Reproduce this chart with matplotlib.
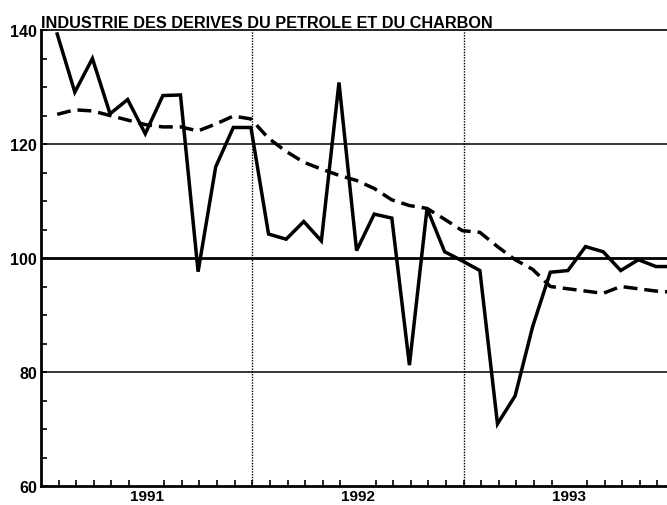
import numpy as np
import matplotlib
matplotlib.use('Agg')
import matplotlib.pyplot as plt

# monthly index, Jan 1991 .. Dec 1993
indice = [139.3, 129.1, 135.0, 125.3, 127.8, 121.8, 128.5, 128.6, 97.6, 116.0, 122.9, 122.9,
          104.2, 103.3, 106.4, 103.0, 130.8, 101.3, 107.7, 107.0, 81.2, 108.7, 101.1, 99.5,
          97.8, 70.9, 75.8, 88.0, 97.5, 97.8, 102.0, 101.1, 97.8, 99.7, 98.5, 98.5]
tendance = [125.2, 126.0, 125.8, 125.0, 124.2, 123.4, 123.0, 123.0, 122.3, 123.5, 124.9, 124.4,
            121.0, 118.7, 116.8, 115.6, 114.5, 113.6, 112.2, 110.2, 109.2, 108.7, 106.8, 104.8,
            104.5, 102.0, 99.7, 98.0, 95.0, 94.6, 94.2, 93.8, 95.0, 94.6, 94.2, 94.0]
annees = ['1991', '1992', '1993']
titre = 'INDUSTRIE DES DERIVES DU PETROLE ET DU CHARBON'

plt.rcParams['font.family'] = ['Liberation Sans', 'DejaVu Sans']

fig = plt.figure(figsize=(6.67, 5.06), dpi=100)
ax = fig.add_axes([41 / 667, 19 / 506, 634 / 667, 456 / 506])

mois = np.arange(len(indice)) + 0.92
ax.plot(mois, indice, color='black', lw=2.5, solid_joinstyle='miter', zorder=3)
ax.plot(mois, tendance, color='black', lw=2.5, dashes=(4, 2), zorder=3)

for y in [80, 100, 120]:
    ax.axhline(y, color='black', lw=2.0 if y == 100 else 1.1, zorder=1)
for x in [12, 24]:
    ax.axvline(x, color='black', lw=1.0, ls=(0, (1, 1)), zorder=1)

ax.set_xlim(0, 36)
ax.set_ylim(60, 140)

ax.set_yticks(range(60, 141, 20))
ax.set_yticks(range(60, 141, 5), minor=True)
ax.set_xticks([6, 18, 30])
ax.set_xticklabels(annees)
ax.set_xticks(range(1, 36), minor=True)

ax.tick_params(axis='y', which='both', direction='in', length=4, width=1.2, pad=3,
               labelsize=11.5)
ax.tick_params(axis='x', which='major', length=0, pad=2.5, labelsize=11)
ax.tick_params(axis='x', which='minor', direction='in', length=4, width=1.2)
for lab in ax.get_xticklabels() + ax.get_yticklabels():
    lab.set_fontweight('bold')

ax.spines['left'].set_linewidth(2)
ax.spines['bottom'].set_linewidth(2)
ax.spines['top'].set_linewidth(1.2)
ax.spines['right'].set_visible(False)

fig.text(41 / 667, 1 - 28.5 / 506, titre, fontsize=11.7, fontweight='bold',
         ha='left', va='baseline')

fig.savefig('out.png', dpi=100)
